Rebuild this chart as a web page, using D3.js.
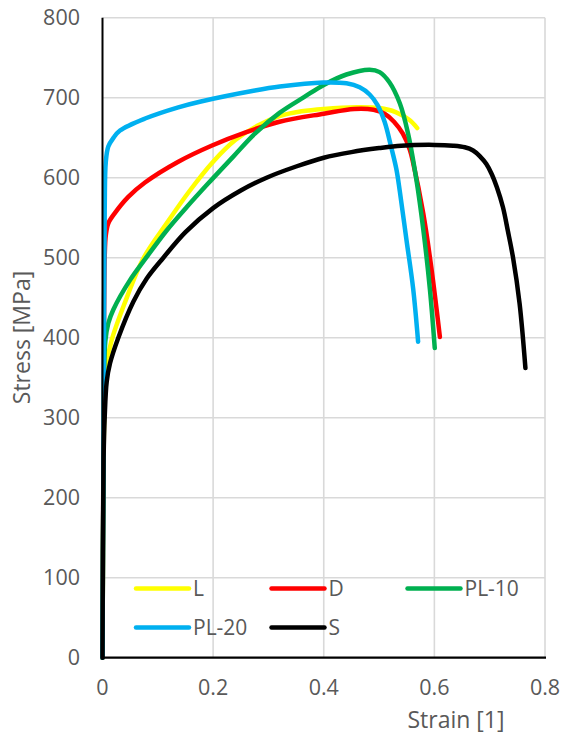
<!DOCTYPE html>
<html><head><meta charset="utf-8">
<script src="https://cdn.jsdelivr.net/npm/d3@7"></script>
<style>body{margin:0;background:#fff}svg{display:block}text{font-family:"Open Sans",sans-serif;fill:#595959}</style>
</head><body><svg id="c" width="562" height="736"></svg>
<script>
const seriesNames = ["L","D","PL-10","PL-20","S"];
const seriesColors = ["#FFFF00","#FF0000","#00B050","#00B0F0","#000000"];
const xTicks = [0,0.2,0.4,0.6,0.8];
const xTickLabels = ["0","0.2","0.4","0.6","0.8"];
const yTicks = [0,100,200,300,400,500,600,700,800];
const yTickLabels = ["0","100","200","300","400","500","600","700","800"];

const L_data = [[0,0],[0.002,250],[0.004,330],[0.007,365],[0.0166,397],[0.04,443],[0.0738,499],[0.116,543],[0.158,584],[0.2,620],[0.24,647],[0.28,665],[0.32,677],[0.36,683],[0.4,686],[0.46,688],[0.5,687],[0.53,682],[0.555,672],[0.569,662]];
const D_data = [[0,0],[0.002,300],[0.004,500],[0.006,528],[0.0105,543],[0.0226,556],[0.0466,576],[0.0768,594],[0.137,620],[0.197,640],[0.26,657],[0.32,670],[0.4,680],[0.455,686],[0.49,685],[0.51,680],[0.527,670],[0.543,655],[0.5556,635],[0.5615,619],[0.58,555],[0.595,485],[0.61,401]];
const PL10_data = [[0,0],[0.002,250],[0.005,395],[0.0105,418],[0.0195,435],[0.0497,472],[0.08,501],[0.116,534],[0.152,563],[0.19,592],[0.236,626],[0.2755,655],[0.32,681],[0.365,701],[0.4,716],[0.441,729],[0.483,735],[0.501,732],[0.519,719],[0.5375,693],[0.5525,655],[0.5676,597],[0.58,535],[0.592,460],[0.6007,387]];
const PL20_data = [[0,0],[0.002,300],[0.004,560],[0.006,620],[0.0105,639],[0.02,650],[0.0316,659],[0.077,674],[0.137,688],[0.176,695],[0.2755,709],[0.3206,714],[0.399,719],[0.441,718],[0.465,713],[0.483,704],[0.497,691],[0.51,670],[0.522,638],[0.5315,610],[0.5375,583],[0.5496,522],[0.5615,462],[0.5706,395]];
const S_data = [[0,0],[0.002,250],[0.004,301],[0.0076,345],[0.0136,368],[0.0286,400],[0.0557,445],[0.08,474],[0.11,500],[0.15,532],[0.2,562],[0.25,584],[0.2966,600],[0.35,614],[0.4,625],[0.45,632],[0.5,637],[0.54,640],[0.6,641],[0.634,640],[0.655,638],[0.67,634],[0.682,627],[0.694,617],[0.704,604],[0.713,588],[0.724,563],[0.733,533],[0.742,501],[0.754,443],[0.7646,362]];
const allData = [L_data, D_data, PL10_data, PL20_data, S_data];

const svg = d3.select("#c");
const pLeft = 102.5, pRight = 545, pTop = 17.7, pBottom = 657.7;
const x = d3.scaleLinear().domain([0,0.8]).range([pLeft,pRight]);
const y = d3.scaleLinear().domain([0,800]).range([pBottom,pTop]);

// gridlines
svg.append("g").selectAll("line").data(yTicks.slice(1)).join("line")
  .attr("x1",pLeft).attr("x2",pRight).attr("y1",d=>y(d)).attr("y2",d=>y(d))
  .attr("stroke","#d9d9d9").attr("stroke-width",1.6);
svg.append("g").selectAll("line").data(xTicks.slice(1)).join("line")
  .attr("x1",d=>x(d)).attr("x2",d=>x(d)).attr("y1",pTop).attr("y2",pBottom)
  .attr("stroke","#d9d9d9").attr("stroke-width",1.6);

// tick labels
svg.append("g").selectAll("text").data(yTicks).join("text")
  .attr("x",80).attr("y",d=>y(d)+7.5).attr("text-anchor","end").attr("font-size",21.5)
  .text((d,i)=>yTickLabels[i]);
svg.append("g").selectAll("text").data(xTicks).join("text")
  .attr("x",d=>x(d)).attr("y",695).attr("text-anchor","middle").attr("font-size",21.5)
  .text((d,i)=>xTickLabels[i]);

// series
const line = d3.line().x(d=>x(d[0])).y(d=>y(d[1])).curve(d3.curveCatmullRom.alpha(0.5));
svg.append("g").selectAll("path").data(allData).join("path")
  .attr("d",line).attr("fill","none")
  .attr("stroke",(d,i)=>seriesColors[i]).attr("stroke-width",4.5)
  .attr("stroke-linecap","round").attr("stroke-linejoin","round");

// axes lines
svg.append("line").attr("x1",pLeft).attr("x2",pLeft).attr("y1",pTop).attr("y2",pBottom)
  .attr("stroke","#000").attr("stroke-width",2);
svg.append("line").attr("x1",pLeft-1).attr("x2",pRight+1).attr("y1",pBottom).attr("y2",pBottom)
  .attr("stroke","#000").attr("stroke-width",2.2);

// axis titles
svg.append("text").attr("x",456).attr("y",728).attr("text-anchor","middle").attr("font-size",23).text("Strain [1]");
svg.append("text").attr("transform","translate(30,337.5) rotate(-90)").attr("text-anchor","middle").attr("font-size",23).text("Stress [MPa]");

// legend
const legPos = [[136,588.5],[271.5,588.5],[407.5,588.5],[136,627.5],[271.5,627.5]];
const lg = svg.append("g");
seriesNames.forEach((n,i)=>{
  const [lx,ly] = legPos[i];
  lg.append("line").attr("x1",lx).attr("x2",lx+53).attr("y1",ly).attr("y2",ly)
    .attr("stroke",seriesColors[i]).attr("stroke-width",4.5).attr("stroke-linecap","round");
  lg.append("text").attr("x",lx+57).attr("y",ly+7.5).attr("font-size",21).text(n);
});
</script></body></html>
